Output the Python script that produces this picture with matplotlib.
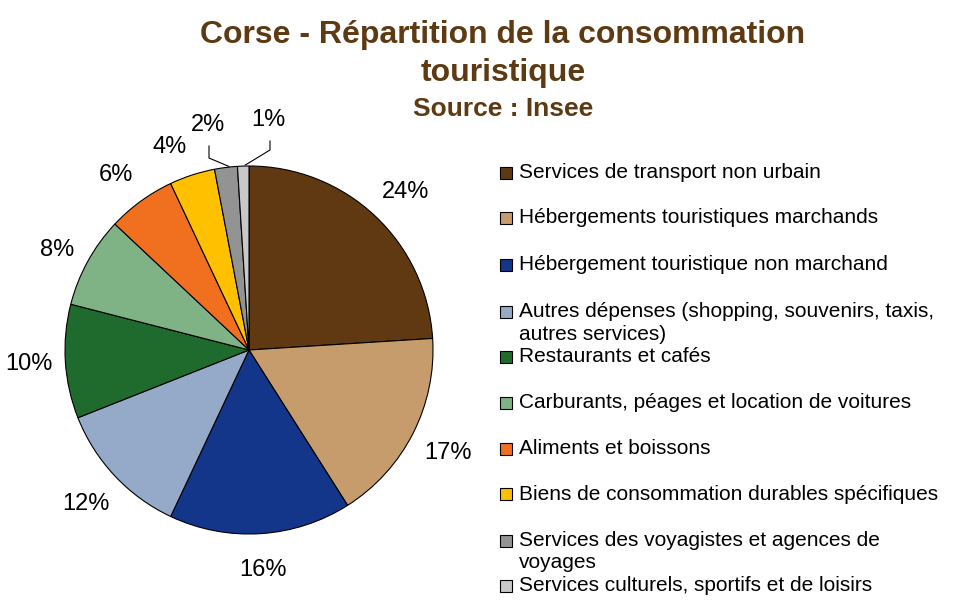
import matplotlib
matplotlib.use("Agg")
import matplotlib.pyplot as plt
from matplotlib.patches import Rectangle
import numpy as np

plt.rcParams['font.family'] = ['Liberation Sans', 'DejaVu Sans']

categories = [
    "Services de transport non urbain",
    "Hébergements touristiques marchands",
    "Hébergement touristique non marchand",
    "Autres dépenses (shopping, souvenirs, taxis,\nautres services)",
    "Restaurants et cafés",
    "Carburants, péages et location de voitures",
    "Aliments et boissons",
    "Biens de consommation durables spécifiques",
    "Services des voyagistes et agences de\nvoyages",
    "Services culturels, sportifs et de loisirs",
]
values = [24, 17, 16, 12, 10, 8, 6, 4, 2, 1]
colors = ["#603913", "#C69C6D", "#13358A", "#95A9C9", "#1F6B2E",
          "#7FB285", "#F07020", "#FFC000", "#939393", "#C8C8C8"]

W, H = 970, 603
fig = plt.figure(figsize=(W / 100, H / 100), dpi=100)
ax = fig.add_axes([0, 0, 1, 1])
ax.set_aspect('equal')

cx, cy, R = 249, H - 350, 184
wedges, _ = ax.pie(values, colors=colors, startangle=90, counterclock=False,
                   center=(cx, cy), radius=R, frame=True,
                   wedgeprops=dict(edgecolor='black', linewidth=0.8))
ax.set_xlim(0, W)
ax.set_ylim(0, H)
ax.axis('off')

brown = "#5E3A12"
fs_lab = 17
# small layout nudges (pixels) for individual labels
nudge = {0: (5, -3), 1: (2, -3), 3: (-2, -3), 5: (2, -6), 6: (-3, -4), 7: (-11, -7)}
for i, (w, v) in enumerate(zip(wedges, values)):
    mid = np.deg2rad((w.theta1 + w.theta2) / 2)
    ex, ey = cx + R * np.cos(mid), cy + R * np.sin(mid)
    lx, ly = cx + 1.2 * R * np.cos(mid), cy + 1.2 * R * np.sin(mid)
    dx, dy = nudge.get(i, (0, 0))
    lx, ly = lx + dx, ly + dy
    if i == 8:
        lx, ly = cx - 41, cy + 225
        ax.plot([lx + 1, lx + 1, ex + 3], [ly - 21, ly - 33, ey + 1],
                color='black', lw=0.8)
    elif i == 9:
        lx, ly = cx + 19, cy + 230
        ax.plot([lx + 2, lx + 2, ex + 2], [ly - 21, ly - 30, ey + 1],
                color='black', lw=0.8)
    ax.text(lx, ly, f"{v}%", ha='center', va='center', fontsize=fs_lab,
            color='black')

fig.text(503 / W, 1 - 35 / H, "Corse - Répartition de la consommation",
         ha='center', va='center', fontsize=23, fontweight='bold', color=brown)
fig.text(503 / W, 1 - 73 / H, "touristique",
         ha='center', va='center', fontsize=23, fontweight='bold', color=brown)
fig.text(503 / W, 1 - 109 / H, "Source : Insee",
         ha='center', va='center', fontsize=19, fontweight='bold', color=brown)

leg_y = [172, 217, 264, 311, 356, 402, 448, 494, 540, 586]
for lab, col, y in zip(categories, colors, leg_y):
    ax.add_patch(Rectangle((500, H - y - 6.5), 12, 12, facecolor=col,
                           edgecolor='black', linewidth=0.8))
    lines = lab.split('\n')
    for k, line in enumerate(lines):
        ax.text(519, H - y - 23 * k, line, ha='left', va='center', fontsize=15)

fig.savefig("out.png", dpi=100)
